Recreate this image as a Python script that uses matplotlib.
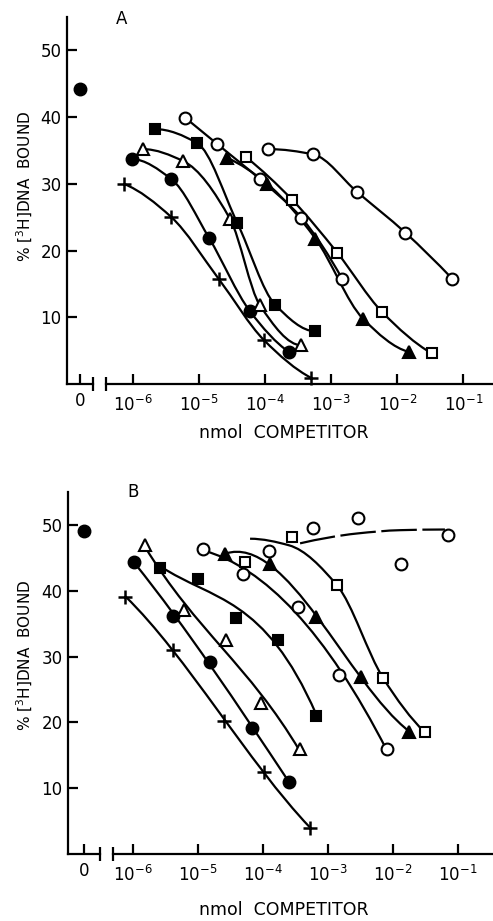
import numpy as np
import matplotlib.pyplot as plt
from matplotlib.path import Path
from matplotlib.patches import PathPatch
from matplotlib.ticker import NullLocator

# x values are log10(nmol competitor), y values are % [3H]DNA bound
# ---- panel A ----
a_zero = 44.2
a_plus_x = [-6.14, -5.42, -4.70, -4.02, -3.30]
a_plus_y = [30.0, 25.0, 15.7, 6.6, 0.9]
a_dot_x = [-6.02, -5.42, -4.85, -4.23, -3.64]
a_dot_y = [33.7, 30.7, 21.9, 10.9, 4.8]
a_otri_x = [-5.85, -5.24, -4.53, -4.08, -3.45]
a_otri_y = [35.2, 33.4, 24.7, 11.8, 5.8]
a_fsq_x = [-5.67, -5.03, -4.42, -3.85, -3.24]
a_fsq_y = [38.2, 36.1, 24.1, 11.9, 7.9]
a_ocirc1_x = [-5.21, -4.73, -4.08, -3.45, -2.83]
a_ocirc1_y = [39.9, 36.0, 30.7, 24.9, 15.7]
a_ftri_x = [-4.58, -3.97, -3.24, -2.52, -1.82]
a_ftri_y = [33.9, 30.0, 21.8, 9.8, 4.8]
a_osq_x = [-4.29, -3.59, -2.91, -2.23, -1.48]
a_osq_y = [34.0, 27.6, 19.7, 10.8, 4.6]
a_ocirc2_x = [-3.95, -3.27, -2.61, -1.88, -1.17]
a_ocirc2_y = [35.2, 34.4, 28.8, 22.7, 15.8]

# ---- panel B ----
b_zero = 49.0
b_plus_x = [-6.12, -5.38, -4.60, -3.98, -3.28]
b_plus_y = [39.1, 31.0, 20.2, 12.5, 4.0]
b_dot_x = [-5.98, -5.38, -4.82, -4.17, -3.60]
b_dot_y = [44.3, 36.2, 29.2, 19.1, 11.0]
b_otri_x = [-5.82, -5.22, -4.57, -4.03, -3.43]
b_otri_y = [47.0, 37.1, 32.5, 22.9, 15.9]
b_fsq_x = [-5.58, -5.00, -4.42, -3.77, -3.18]
b_fsq_y = [43.4, 41.8, 35.9, 32.5, 20.9]
b_ocirc1_x = [-4.92, -4.31, -3.46, -2.83, -2.09]
b_ocirc1_y = [46.4, 42.6, 37.6, 27.2, 15.9]
b_ftri_x = [-4.58, -3.89, -3.18, -2.49, -1.75]
b_ftri_y = [45.6, 44.0, 36.0, 26.9, 18.6]
b_osq_x = [-4.28, -3.55, -2.86, -2.15, -1.51]
b_osq_y = [44.4, 48.2, 40.8, 26.7, 18.5]
b_ocirc2_x = [-3.91, -3.23, -2.54, -1.88, -1.15]
b_ocirc2_y = [46.1, 49.5, 51.1, 44.1, 48.4]
# fitted lines drawn in B that do not pass through the markers
b_osq_fit_x = [-4.20, -3.60, -2.86, -2.15, -1.51]
b_osq_fit_y = [47.9, 46.9, 40.8, 26.7, 18.5]
b_ocirc2_fit_x = [-3.43, -2.55, -1.89, -1.20]
b_ocirc2_fit_y = [47.2, 48.7, 49.2, 49.3]

y_ticks = [10, 20, 30, 40, 50]
x_ticks = [-6, -5, -4, -3, -2, -1]

styles = {
    'plus':  dict(marker='+', ms=10, mew=1.8, mfc='k'),
    'dot':   dict(marker='o', ms=8.5, mew=1.5, mfc='k'),
    'otri':  dict(marker='^', ms=8, mew=1.5, mfc='white'),
    'fsq':   dict(marker='s', ms=7.5, mew=1.5, mfc='k'),
    'ocirc': dict(marker='o', ms=8.5, mew=1.5, mfc='white'),
    'ftri':  dict(marker='^', ms=8, mew=1.5, mfc='k'),
    'osq':   dict(marker='s', ms=7.5, mew=1.5, mfc='white'),
}

series_a = [(a_plus_x, a_plus_y, 'plus'), (a_dot_x, a_dot_y, 'dot'),
            (a_otri_x, a_otri_y, 'otri'), (a_fsq_x, a_fsq_y, 'fsq'),
            (a_ocirc1_x, a_ocirc1_y, 'ocirc'), (a_ftri_x, a_ftri_y, 'ftri'),
            (a_osq_x, a_osq_y, 'osq'), (a_ocirc2_x, a_ocirc2_y, 'ocirc')]
series_b = [(b_plus_x, b_plus_y, 'plus'), (b_dot_x, b_dot_y, 'dot'),
            (b_otri_x, b_otri_y, 'otri'), (b_fsq_x, b_fsq_y, 'fsq'),
            (b_ocirc1_x, b_ocirc1_y, 'ocirc'), (b_ftri_x, b_ftri_y, 'ftri'),
            (b_osq_x, b_osq_y, 'osq'), (b_ocirc2_x, b_ocirc2_y, 'ocirc')]
# A: smooth monotone curves through the points
lines_a = [(s[0], s[1], '-', 'through') for s in series_a]
# B: least-squares curves, plus the two drawn fits
lines_b = [(b_plus_x, b_plus_y, '-', 'fit'), (b_dot_x, b_dot_y, '-', 'fit'),
           (b_otri_x, b_otri_y, '-', 'fit'), (b_fsq_x, b_fsq_y, '-', 'fit'),
           (b_ocirc1_x, b_ocirc1_y, '-', 'fit'),
           (b_ftri_x, b_ftri_y, '-', 'fit'),
           (b_osq_fit_x, b_osq_fit_y, '-', 'through'),
           (b_ocirc2_fit_x, b_ocirc2_fit_y, (0, (16, 2.5)), 'through')]


def pchip_slopes(x, y):
    h = np.diff(x)
    d = np.diff(y) / h
    n = len(x)
    m = np.zeros(n)
    for k in range(1, n - 1):
        if d[k-1] * d[k] > 0:
            w1 = 2*h[k] + h[k-1]
            w2 = h[k] + 2*h[k-1]
            m[k] = (w1 + w2) / (w1/d[k-1] + w2/d[k])
    for k, (i, j) in ((0, (0, 1)), (n - 1, (-1, -2))):
        hi, hj = h[i], h[j]
        e = ((2*hi + hj)*d[i] - hi*d[j]) / (hi + hj)
        if np.sign(e) != np.sign(d[i]):
            e = 0.0
        elif np.sign(d[i]) != np.sign(d[j]) and abs(e) > 3*abs(d[i]):
            e = 3*d[i]
        m[k] = e
    return m


def draw_line(ax, lx, y, ls, how):
    lx = np.asarray(lx, float)
    y = np.asarray(y, float)
    if how == 'fit':
        # cubic least-squares in log-x: exactly one bezier segment
        f = np.poly1d(np.polyfit(lx, y, 3))
        knots_x = lx[[0, -1]]
        knots_y = f(knots_x)
        slopes = f.deriv()(knots_x)
    else:
        knots_x, knots_y = lx, y
        slopes = pchip_slopes(lx, y)
    verts = [[knots_x[0], knots_y[0]]]
    codes = [Path.MOVETO]
    for k in range(len(knots_x) - 1):
        d = (knots_x[k+1] - knots_x[k]) / 3
        verts += [[knots_x[k] + d, knots_y[k] + slopes[k]*d],
                  [knots_x[k+1] - d, knots_y[k+1] - slopes[k+1]*d],
                  [knots_x[k+1], knots_y[k+1]]]
        codes += [Path.CURVE4]*3
    verts = np.array(verts)
    verts[:, 0] = 10**verts[:, 0]
    ax.add_patch(PathPatch(Path(verts, codes), fill=False, lw=1.6, ls=ls,
                           ec='k', zorder=2, capstyle='butt'))


def panel(fig, px0, px_break, px_log, top, bottom, lx_left, lx_right,
          zero_val, series, lines, letter, letter_xy, ylab_y, xlab_y):
    W, H = 493.0, 921.0
    b = 1 - bottom/H
    h = (bottom - top)/H
    ax0 = fig.add_axes([px0/W, b, (px_break - px0)/W, h])
    ax1 = fig.add_axes([px_log/W, b, (W - px_log)/W, h])
    for ax in (ax0, ax1):
        ax.set_ylim(0, 55)
        ax.spines['top'].set_visible(False)
        ax.spines['right'].set_visible(False)
        ax.spines['bottom'].set_linewidth(1.6)
        ax.spines['left'].set_linewidth(1.6)
        ax.patch.set_alpha(0)
    ax0.set_xlim(-1, 1)
    ax0.set_xticks([0])
    ax0.set_xticklabels(['0'])
    ax0.set_yticks(y_ticks)
    ax0.set_yticklabels([str(t) for t in y_ticks])
    ax0.tick_params(direction='in', length=7, width=1.6, labelsize=12, pad=4)
    ax0.tick_params(axis='x', pad=6)
    ax0.plot([0], [zero_val], 'o', color='k', ms=9, clip_on=False)
    ax0.plot([1], [0], marker='|', ms=10, mew=1.6, color='k',
             transform=ax0.transAxes, clip_on=False)

    ax1.spines['left'].set_visible(False)
    ax1.set_xscale('log')
    ax1.set_xlim(10**lx_left, 10**lx_right)
    ax1.set_xticks([10.0**t for t in x_ticks])
    ax1.set_xticklabels([r'$10^{%d}$' % t for t in x_ticks])
    ax1.xaxis.set_minor_locator(NullLocator())
    ax1.set_yticks([])
    ax1.tick_params(direction='in', length=7, width=1.6, labelsize=12, pad=8)
    ax1.plot([0], [0], marker='|', ms=10, mew=1.6, color='k',
             transform=ax1.transAxes, clip_on=False)

    for lx, y, ls, how in lines:
        draw_line(ax1, lx, y, ls, how)
    for lx, y, kind in series:
        ax1.plot([10**v for v in lx], y, ls='none', color='k', zorder=3,
                 clip_on=False, **styles[kind])

    fig.text(letter_xy[0]/W, 1 - letter_xy[1]/H, letter, fontsize=12,
             ha='center', va='center')
    fig.text(25/W, 1 - ylab_y/H, r'% [$^3$H]DNA  BOUND', rotation=90,
             fontsize=11, ha='center', va='center')
    fig.text(284/W, 1 - xlab_y/H, 'nmol  COMPETITOR', fontsize=12.5,
             ha='center', va='center')


fig = plt.figure(figsize=(4.93, 9.21), dpi=100)
panel(fig, 67, 93, 106, 17, 384, -6.41, -0.55, a_zero, series_a, lines_a,
      'A', (122, 19), 186, 433)
panel(fig, 68, 100, 113, 492, 854, -6.31, -0.46, b_zero, series_b, lines_b,
      'B', (133, 492), 655, 910)
fig.savefig('out.png', dpi=100)
